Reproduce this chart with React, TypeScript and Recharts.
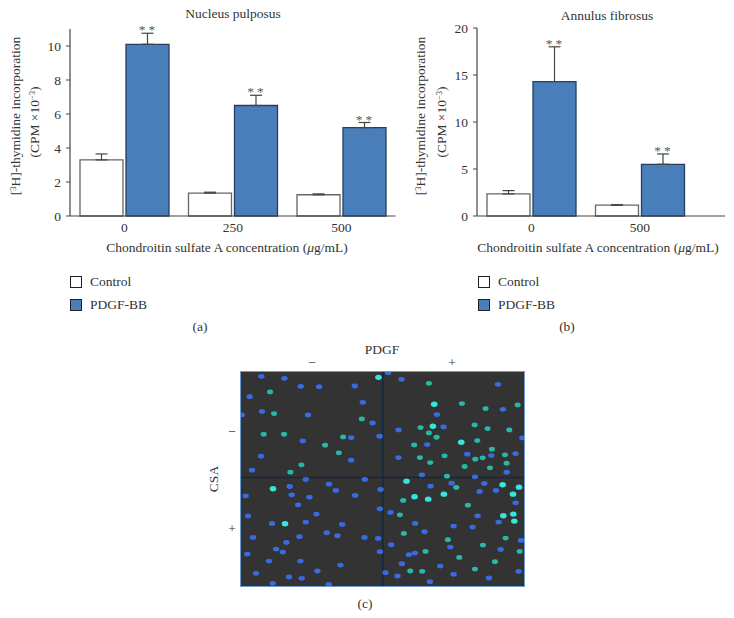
import { Bar, BarChart, ErrorBar, Label, LabelList, Legend, ReferenceLine, Scatter, ScatterChart, XAxis, YAxis, ZAxis } from 'recharts';

const nucleusDoses = ['0', '250', '500'];
const nucleusControl = [3.3, 1.35, 1.25];
const nucleusControlErr = [0.35, 0.05, 0.05];
const nucleusPdgf = [10.1, 6.5, 5.2];
const nucleusPdgfErr = [0.65, 0.6, 0.3];
const nucleusTicks = [0, 2, 4, 6, 8, 10];

const annulusDoses = ['0', '500'];
const annulusControl = [2.35, 1.15];
const annulusControlErr = [0.35, 0.05];
const annulusPdgf = [14.3, 5.5];
const annulusPdgfErr = [3.7, 1.1];
const annulusTicks = [0, 5, 10, 15, 20];

const blueCells = [
  [213, 108], [282, 114], [331, 138], [386, 139], [493, 137], [178, 169], [517, 186], [215, 214], [353, 224], [154, 224],
  [546, 248], [567, 288], [482, 292], [337, 302], [212, 348], [482, 360], [185, 390], [593, 97],
  [633, 117], [739, 223], [624, 269], [759, 260], [710, 313], [624, 352], [830, 342], [902, 346], [975, 340], [995, 293],
  [694, 404], [853, 410], [948, 396], [922, 132], [937, 207],
  [298, 439], [346, 418], [416, 432], [436, 451], [523, 418], [494, 466], [570, 448], [304, 464], [357, 471], [323, 494],
  [378, 522], [568, 506], [245, 550], [346, 546], [455, 553], [188, 592], [288, 607], [327, 590], [409, 578], [441, 587],
  [522, 592], [563, 595], [257, 627], [277, 636], [171, 642], [568, 635], [236, 663], [330, 663], [450, 675], [197, 700],
  [381, 693], [296, 711], [334, 715], [247, 730], [415, 733], [166, 467], [173, 528],
  [720, 438], [783, 429], [881, 430], [867, 454], [916, 451], [975, 488], [600, 517], [674, 550], [861, 527], [924, 546],
  [789, 558], [846, 561], [702, 575], [991, 601], [602, 614], [779, 621], [930, 628], [655, 644], [673, 639], [749, 678],
  [634, 671], [789, 703], [984, 694], [895, 714], [621, 708], [585, 698], [718, 725],
];
const tealCells = [
  [239, 155], [251, 220], [220, 282], [281, 282], [514, 236], [458, 290], [404, 315], [445, 338], [333, 374], [300, 396],
  [715, 129], [814, 190], [885, 205], [981, 194], [690, 262], [715, 278], [738, 291], [671, 314], [688, 352], [762, 347],
  [719, 367], [852, 254], [891, 265], [956, 269], [860, 301], [904, 327], [943, 344], [854, 357], [876, 353], [948, 369],
  [822, 379], [898, 383], [769, 408],
  [797, 442], [638, 481], [832, 495], [628, 524], [640, 580], [705, 634], [806, 652], [913, 665], [987, 634], [695, 694],
  [853, 687], [659, 693], [772, 599], [945, 594], [877, 615],
];
const brightCells = [
  [564, 111], [731, 192], [727, 258], [812, 306], [248, 446], [284, 551], [648, 423], [672, 470], [713, 477], [760, 462],
  [936, 434], [985, 441], [967, 462], [938, 527], [968, 522], [971, 543],
];

const FONT = '"Liberation Serif", serif';
const TEXT = '#333';
const FONT_SIZE = 13.5;

const toRows = (doses: string[], control: number[], controlErr: number[], pdgf: number[], pdgfErr: number[]) =>
  doses.map((dose, i) => ({
    dose,
    control: control[i],
    controlErr: [0, controlErr[i]],
    pdgf: pdgf[i],
    pdgfErr: [0, pdgfErr[i]],
  }));

const toPoints = (cells: number[][]) => cells.map(([x, y]) => ({ x, y }));

function PanelLegend({ payload }: any) {
  return (
    <div style={{ fontFamily: FONT, fontSize: FONT_SIZE, color: TEXT }}>
      {payload.map((item: any) => (
        <div key={item.value} style={{ display: 'flex', alignItems: 'center', height: 23 }}>
          <span
            style={{
              width: 10,
              height: 10,
              background: item.color,
              border: '1px solid #222',
              marginRight: 8,
            }}
          />
          {item.value}
        </div>
      ))}
    </div>
  );
}

function Stars({ viewBox, value, index, errors }: any) {
  const { x, y, width, height } = viewBox;
  const top = y - (errors[index] * Math.abs(height)) / value;
  return (
    <text x={x + width / 2 + 1} y={top + 1} textAnchor="middle" fontFamily={FONT} fontSize={13.5} fill="#555" letterSpacing={3}>
      **
    </text>
  );
}

interface BarPanelProps {
  left: number;
  width: number;
  marginLeft: number;
  rows: any[];
  ticks: number[];
  domainMax: number;
  plotTop: number;
  pdgfErrors: number[];
  rightPad: number;
  axisPad: number;
  title: string;
  titleX: number;
  labelX: number;
  yLabelX: [number, number];
  legendX: number;
  caption: string;
  captionX: number;
}

function BarPanel(p: BarPanelProps) {
  return (
    <div style={{ position: 'absolute', left: p.left, top: 0, width: p.width, height: 340 }}>
      <BarChart
        width={p.width}
        height={340}
        data={p.rows}
        barSize={43}
        barGap={3}
        margin={{ top: p.plotTop, right: p.rightPad, bottom: 100, left: p.marginLeft - 30 }}
      >
        <XAxis
          dataKey="dose"
          height={24}
          padding={{ left: 0, right: p.axisPad }}
          tickLine={false}
          axisLine={{ stroke: '#444', strokeWidth: 1.2 }}
          tick={{ fontFamily: FONT, fontSize: FONT_SIZE, fill: TEXT }}
          tickMargin={0}
        >
          <Label
            content={() => (
              <text x={p.labelX} y={252} textAnchor="middle" fontFamily={FONT} fontSize={FONT_SIZE} fill={TEXT}>
                Chondroitin sulfate A concentration (<tspan fontStyle="italic">μ</tspan>g/mL)
              </text>
            )}
          />
        </XAxis>
        <YAxis
          width={30}
          domain={[0, p.domainMax]}
          ticks={p.ticks}
          tickSize={4}
          tickMargin={5}
          tickLine={{ stroke: '#444' }}
          axisLine={{ stroke: '#444', strokeWidth: 1.2 }}
          tick={{ fontFamily: FONT, fontSize: FONT_SIZE, fill: TEXT }}
        >
          <Label
            content={() => (
              <g fontFamily={FONT} fontSize={FONT_SIZE} fill={TEXT} textAnchor="middle">
                <text transform={`translate(${p.yLabelX[0]},116) rotate(-90)`}>
                  [<tspan dy={-4} fontSize={8.5}>3</tspan>
                  <tspan dy={4}>H]-thymidine incorporation</tspan>
                </text>
                <text transform={`translate(${p.yLabelX[1]},122) rotate(-90)`}>
                  (CPM ×10<tspan dy={-4} fontSize={8.5}>−3</tspan>
                  <tspan dy={4}>)</tspan>
                </text>
              </g>
            )}
          />
        </YAxis>
        <Legend
          layout="vertical"
          align="center"
          verticalAlign="middle"
          wrapperStyle={{ left: p.legendX, top: 270, width: 120 }}
          content={<PanelLegend />}
        />
        <Bar dataKey="control" name="Control" fill="#fff" stroke="#666" strokeWidth={1.3} isAnimationActive={false}>
          <ErrorBar dataKey="controlErr" direction="y" width={6} stroke="#444" strokeWidth={1.2} isAnimationActive={false} />
        </Bar>
        <Bar dataKey="pdgf" name="PDGF-BB" fill="#4a7ebb" stroke="#24405f" strokeWidth={1.3} isAnimationActive={false}>
          <ErrorBar dataKey="pdgfErr" direction="y" width={6} stroke="#444" strokeWidth={1.2} isAnimationActive={false} />
          <LabelList content={(props: any) => <Stars {...props} errors={p.pdgfErrors} />} />
        </Bar>
      </BarChart>
      <div style={captionStyle(p.titleX - p.left, p.left === 0 ? 14 : 16)}>{p.title}</div>
      <div style={captionStyle(p.captionX - p.left, 327)}>{p.caption}</div>
    </div>
  );
}

function captionStyle(x: number, y: number): React.CSSProperties {
  return {
    position: 'absolute',
    left: x,
    top: y,
    transform: 'translate(-50%,-50%)',
    fontFamily: FONT,
    fontSize: FONT_SIZE,
    color: TEXT,
    whiteSpace: 'nowrap',
  };
}

function Nucleus({ cx, cy, fill, rx, ry }: any) {
  return <ellipse cx={cx} cy={cy} rx={rx} ry={ry} fill={fill} />;
}

function Micrograph() {
  return (
    <div
      style={{
        position: 'absolute',
        left: 240,
        top: 371,
        width: 283,
        height: 214,
        background: '#333',
        border: '1px solid #6d9bcf',
      }}
    >
      <div style={{ filter: 'blur(0.4px)' }}>
        <ScatterChart width={283} height={214} margin={{ top: 0, right: 0, bottom: 0, left: 0 }}>
          <XAxis type="number" dataKey="x" domain={[152, 1000]} hide />
          <YAxis type="number" dataKey="y" domain={[95, 738]} reversed hide width={0} />
          <ZAxis range={[20, 20]} />
          <ReferenceLine x={577} stroke="#12283f" strokeWidth={1.5} />
          <ReferenceLine y={412} stroke="#12283f" strokeWidth={1.5} />
          <Scatter data={toPoints(blueCells)} fill="#3a6ae0" isAnimationActive={false} shape={<Nucleus rx={3.2} ry={2.4} />} />
          <Scatter data={toPoints(tealCells)} fill="#28b8a8" isAnimationActive={false} shape={<Nucleus rx={3} ry={2.4} />} />
          <Scatter data={toPoints(brightCells)} fill="#35e6dc" isAnimationActive={false} shape={<Nucleus rx={3.3} ry={2.7} />} />
        </ScatterChart>
      </div>
    </div>
  );
}

export default function App() {
  return (
    <div style={{ position: 'absolute', left: 0, top: 0, width: 734, height: 618, background: '#fff', overflow: 'hidden' }}>
      <BarPanel
        left={0}
        width={400}
        marginLeft={70}
        rows={toRows(nucleusDoses, nucleusControl, nucleusControlErr, nucleusPdgf, nucleusPdgfErr)}
        ticks={nucleusTicks}
        domainMax={11}
        plotTop={29}
        pdgfErrors={nucleusPdgfErr}
        rightPad={4.5}
        axisPad={0}
        title="Nucleus pulposus"
        titleX={233}
        labelX={227}
        yLabelX={[20, 39]}
        legendX={70}
        caption="(a)"
        captionX={200}
      />
      <BarPanel
        left={400}
        width={334}
        marginLeft={77}
        rows={toRows(annulusDoses, annulusControl, annulusControlErr, annulusPdgf, annulusPdgfErr)}
        ticks={annulusTicks}
        domainMax={20}
        plotTop={28}
        pdgfErrors={annulusPdgfErr}
        rightPad={9}
        axisPad={31}
        title="Annulus fibrosus"
        titleX={607}
        labelX={198}
        yLabelX={[25, 46]}
        legendX={78}
        caption="(b)"
        captionX={567}
      />
      <Micrograph />
      <div style={captionStyle(382, 350)}>PDGF</div>
      <div style={captionStyle(312, 363)}>−</div>
      <div style={captionStyle(452, 363)}>+</div>
      <div style={captionStyle(232, 432)}>−</div>
      <div style={captionStyle(232, 529)}>+</div>
      <div style={{ ...captionStyle(214, 479), transform: 'translate(-50%,-50%) rotate(-90deg)' }}>CSA</div>
      <div style={captionStyle(365, 604)}>(c)</div>
    </div>
  );
}
